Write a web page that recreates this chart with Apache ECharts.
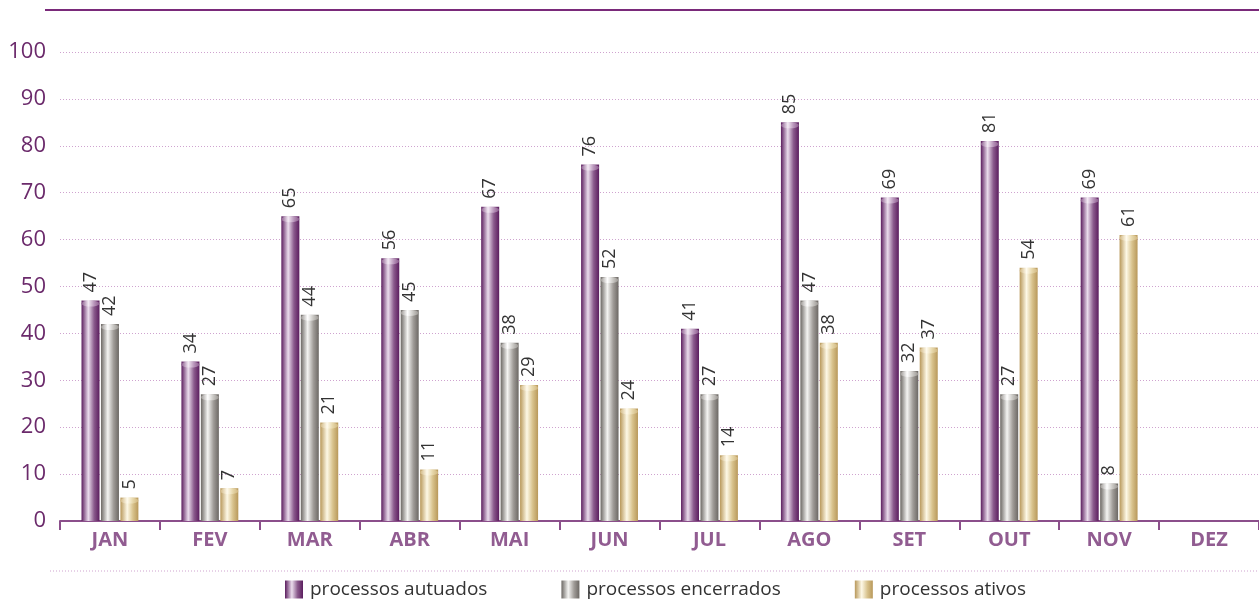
<!DOCTYPE html>
<html>
<head>
<meta charset="utf-8">
<script src="https://cdn.jsdelivr.net/npm/echarts@6/dist/echarts.min.js"></script>
<style>
html, body { margin: 0; padding: 0; background: #fff; }
#chart { width: 1259px; height: 607px; }
</style>
</head>
<body>
<div id="chart"></div>
<script>
// meses e valores
var meses = ['JAN', 'FEV', 'MAR', 'ABR', 'MAI', 'JUN', 'JUL', 'AGO', 'SET', 'OUT', 'NOV', 'DEZ'];
var autuados = [47, 34, 65, 56, 67, 76, 41, 85, 69, 81, 69, null];
var encerrados = [42, 27, 44, 45, 38, 52, 27, 47, 32, 27, 8, null];
var ativos = [5, 7, 21, 11, 29, 24, 14, 38, 37, 54, 61, null];
var yTicks = [0, 10, 20, 30, 40, 50, 60, 70, 80, 90, 100];

function cilindro(esc, claro, med) { // gradiente horizontal tipo cilindro
  return new echarts.graphic.LinearGradient(0, 0, 1, 0, [
    { offset: 0, color: esc },
    { offset: 0.38, color: claro },
    { offset: 0.7, color: med },
    { offset: 1, color: esc }
  ]);
}

function serie(nome, dados, cor) {
  return {
    name: nome,
    type: 'bar',
    data: dados,
    barWidth: 18,
    barGap: '8%',
    itemStyle: { color: cor },
    label: {
      show: true,
      position: 'top',
      rotate: 90,
      align: 'left',
      verticalAlign: 'middle',
      distance: 8,
      color: '#333',
      fontSize: 18,
      fontFamily: 'Open Sans'
    }
  };
}

function tampa(dados, cor) { // elipse no topo das barras
  return {
    type: 'pictorialBar',
    data: dados,
    barWidth: 18,
    barGap: '8%',
    symbol: 'circle',
    symbolSize: [18, 6],
    symbolPosition: 'end',
    symbolOffset: [0, 0],
    z: 3,
    silent: true,
    itemStyle: { color: cor }
  };
}

var chart = echarts.init(document.getElementById('chart'));
chart.setOption({
  animation: false,
  grid: { left: 60, right: -8, top: 52, bottom: 86 },
  legend: {
    bottom: 3,
    left: 280,
    itemWidth: 18,
    itemHeight: 18,
    itemGap: 74,
    icon: 'rect',
    textStyle: { color: '#333', fontSize: 19, fontFamily: 'Open Sans', padding: [0, 0, 0, 2] },
    data: ['processos autuados', 'processos encerrados', 'processos ativos']
  },
  xAxis: {
    type: 'category',
    data: meses,
    axisLine: { lineStyle: { color: '#8b4f8b', width: 2 } },
    axisTick: { show: true, length: 9, lineStyle: { color: '#8b4f8b', width: 2 } },
    axisLabel: { color: '#915c91', fontSize: 20, fontWeight: 'bold', fontFamily: 'Open Sans', margin: 9 }
  },
  yAxis: {
    type: 'value',
    min: yTicks[0],
    max: yTicks[yTicks.length - 1],
    interval: 10,
    axisLine: { show: false },
    axisTick: { show: false },
    axisLabel: { color: '#6b2a6b', fontSize: 22, fontFamily: 'Open Sans', margin: 14 },
    splitLine: { lineStyle: { color: '#cfa3cf', type: [1, 2], width: 1 } }
  },
  graphic: [
    { type: 'line', shape: { x1: 45, y1: 10, x2: 1259, y2: 10 }, style: { stroke: '#7a2a7a', lineWidth: 2 } },
    { type: 'line', shape: { x1: 50, y1: 571, x2: 1259, y2: 571 }, style: { stroke: '#cfa3cf', lineWidth: 1, lineDash: [1, 2] } }
  ],
  series: [
    serie('processos autuados', autuados, cilindro('#5b1d5e', '#eadcec', '#8a5a8c')),
    serie('processos encerrados', encerrados, cilindro('#6c6864', '#f4f4f2', '#a09c98')),
    serie('processos ativos', ativos, cilindro('#b8985a', '#fdf8e6', '#d8c28c')),
    tampa(autuados, cilindro('#8a5a8c', '#f3eaf4', '#b894ba')),
    tampa(encerrados, cilindro('#9a9692', '#ffffff', '#c8c6c2')),
    tampa(ativos, cilindro('#d0b680', '#fffbee', '#e6d6a8'))
  ]
});
</script>
</body>
</html>
